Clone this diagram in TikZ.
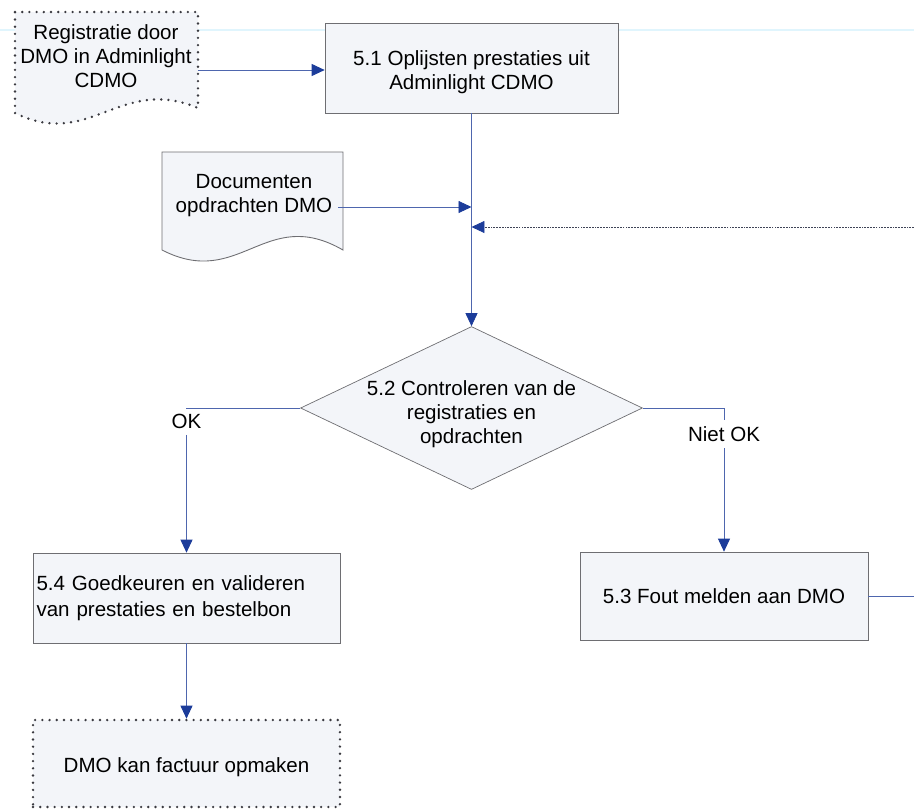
\documentclass[tikz,border=0pt]{standalone}
\usepackage{fontspec}
\setmainfont{Liberation Sans}
\usepackage{tikz}
\usetikzlibrary{shapes.geometric, positioning, arrows.meta}
\definecolor{boxfill}{HTML}{F3F5F9}
\definecolor{boxline}{HTML}{6E6E72}
\definecolor{dotline}{HTML}{3A3A40}
\definecolor{flowline}{HTML}{4E66AE}
\definecolor{tipblue}{HTML}{1C3C9A}

\begin{document}
\begin{tikzpicture}[x=0.02cm, y=-0.02cm,
    font=\fontsize{11.7pt}{13.6pt}\selectfont,
    proc/.style={rectangle, draw=boxline, fill=boxfill, align=center},
    dots/.style={draw=dotline, line width=1.5pt, dash pattern=on 0pt off 4.1pt, line cap=round},
    term/.style={proc, dots},
    flow/.style={draw=flowline, line width=0.5pt},
    arr/.style={flow, -{Triangle[length=0.26cm, width=0.24cm, color=tipblue]}},
    lbl/.style={fill=white, inner sep=0pt}]
    \useasboundingbox (0,0) rectangle (914,809);
    \draw[cyan!12, line width=0.6pt] (0,30) -- (914,30);

    % documents
    \draw[dots, fill=boxfill]
        (15,12) -- (198,12) -- (198,108) .. controls (120,75) and (90,150) .. (15,113) -- cycle;
    \node[align=center] (reg) at (106,56) {Registratie door\\DMO in Adminlight\\CDMO};
    \draw[boxline, fill=boxfill, line width=0.5pt]
        (162,152) -- (343,152) -- (343,250) .. controls (265,205) and (240,290) .. (162,250) -- cycle;
    \node[align=center] (docs) at (254,196) {Documenten\\opdrachten DMO};

    % steps
    \node[proc, minimum width=5.86cm, minimum height=1.8cm] (p51) at (471.5,68) {\rule{0pt}{0.48cm}5.1 Oplijsten prestaties uit\\Adminlight CDMO};
    \node[proc, diamond, inner sep=0pt, minimum width=6.84cm, minimum height=3.26cm] (d52) at (471.5,408) {};
    \node[align=center] (d52t) at (471.5,414) {5.2 Controleren van de\\registraties en\\opdrachten};
    \node[proc, minimum width=5.76cm, minimum height=1.76cm] (f53) at (724,596) {5.3 Fout melden aan DMO};
    \node[proc, align=left, text width=6.0cm, inner xsep=0.07cm, minimum height=1.8cm,
        font=\fontsize{11.7pt}{14.6pt}\selectfont] (g54) at (186.5,598) {5.4 Goedkeuren en valideren\\van prestaties en bestelbon};
    \node[term, minimum width=6.14cm, minimum height=1.74cm, text height=0.44cm] (fact) at (186.5,763.5) {DMO kan factuur opmaken};

    % labels on the branches
    \node[lbl, minimum height=0.52cm] (ok) at (186.5,421.5) {OK};
    \node[lbl, minimum height=0.56cm] (nok) at (724,434) {Niet OK};

    % connectors
    \coordinate (j1) at (471.5,207);
    \coordinate (j2) at (471.5,227);
    \coordinate (loopin) at (914,227);
    \coordinate (loopout) at (914,596);
    \draw[arr] (reg.east |- 0,70) -- (p51.west |- 0,70);
    \draw[arr] (docs.east |- j1) -- (j1);
    \draw[arr] (p51.south) -- (d52.north);
    \draw[arr, draw=dotline!80!flowline, dash pattern=on 1pt off 0.6pt] (loopin) -- (j2);
    \draw[flow] (d52.west) -| (ok.north);
    \draw[arr] (ok.south) -- (g54.north);
    \draw[flow] (d52.east) -| (nok.north);
    \draw[arr] (nok.south) -- (f53.north);
    \draw[flow] (f53.east) -- (loopout);
    \draw[arr] (g54.south) -- (fact.north);
\end{tikzpicture}
\end{document}
